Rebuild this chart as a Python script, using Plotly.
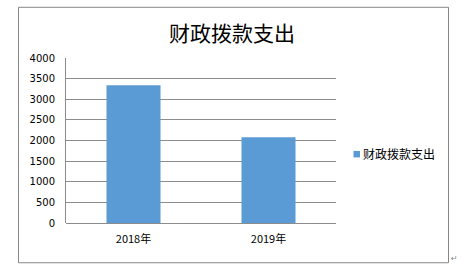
import plotly.graph_objects as go

categories = ["2018年", "2019年"]
values = [3340, 2080]
series_name = "财政拨款支出"
title_text = "财政拨款支出"
y_ticks = [0, 500, 1000, 1500, 2000, 2500, 3000, 3500, 4000]

W, H = 462, 273
L, R, T, B = 66, 336, 57.5, 223.5
pw, ph = R - L, B - T

def px(x):
    return (x - L) / pw

def py(y):
    return (B - y) / ph

bar_color = "#5B9BD5"
grid_color = "#8C8C8C"

fig = go.Figure()
fig.add_trace(go.Bar(
    x=categories, y=values, marker=dict(color=bar_color, line=dict(width=0)),
    width=0.4, showlegend=False, name=series_name,
))

fig.update_layout(
    width=W, height=H,
    margin=dict(l=L, r=W - R, t=T, b=H - B),
    paper_bgcolor="white", plot_bgcolor="white",
    showlegend=False,
    font=dict(family="DejaVu Sans", size=10, color="#000000"),
    xaxis=dict(
        showgrid=False, showline=False, zeroline=False, ticks="",
        tickfont=dict(family="Noto Sans CJK SC", size=11, color="#000000"),
        ticklabelstandoff=8,
    ),
    yaxis=dict(
        range=[0, 4000], tickvals=y_ticks, showgrid=True, gridcolor=grid_color,
        gridwidth=1, showline=True, linecolor=grid_color, linewidth=1,
        zeroline=True, zerolinecolor=grid_color, zerolinewidth=1,
        ticks="", tickfont=dict(family="DejaVu Sans", size=10, color="#000000"),
        ticklabelstandoff=8,
    ),
    shapes=[
        dict(type="rect", xref="paper", yref="paper",
             x0=px(18.5), x1=px(448.5), y0=py(263.5), y1=py(6.5),
             line=dict(color="#878787", width=1), fillcolor="rgba(0,0,0,0)"),
        dict(type="rect", xref="paper", yref="paper",
             x0=px(353.5), x1=px(360), y0=py(157.5), y1=py(151),
             line=dict(width=0), fillcolor=bar_color),
    ],
    annotations=[
        dict(text=title_text, xref="paper", yref="paper", x=px(232), y=py(31),
             xanchor="center", yanchor="middle", showarrow=False,
             font=dict(family="Noto Sans CJK SC", size=21, color="#000000")),
        dict(text=series_name, xref="paper", yref="paper", x=px(361), y=py(154),
             xanchor="left", yanchor="middle", showarrow=False,
             font=dict(family="Noto Sans CJK SC", size=12, color="#000000")),
        dict(text="↵", xref="paper", yref="paper", x=px(449), y=py(259),
             xanchor="left", yanchor="middle", showarrow=False,
             font=dict(family="DejaVu Sans", size=8, color="#888888")),
    ],
)

fig.write_html("out.html")
